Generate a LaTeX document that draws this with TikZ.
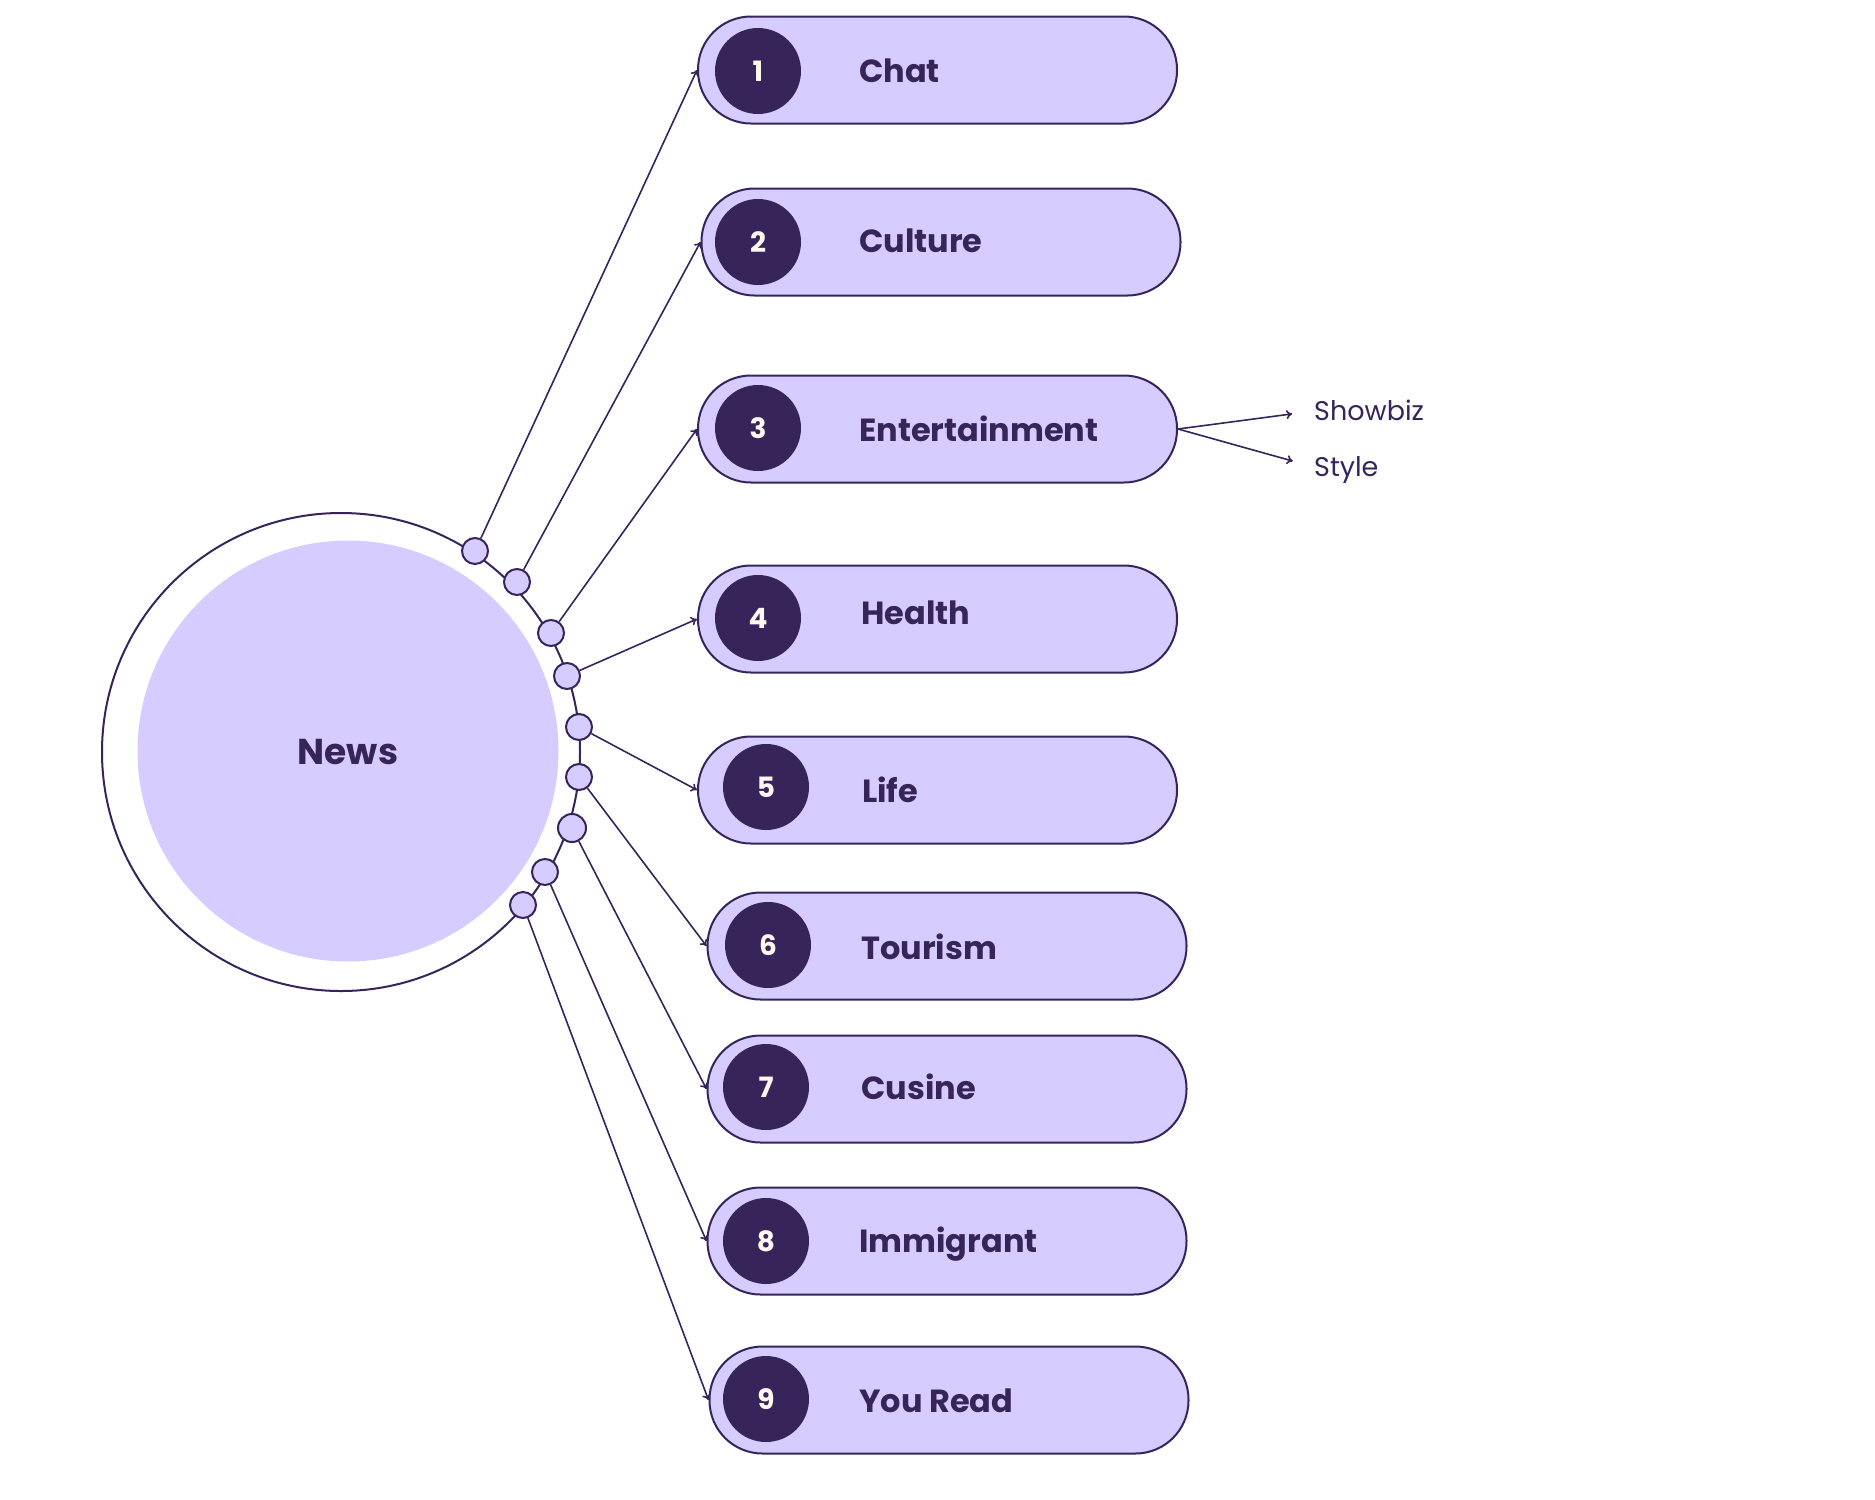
\documentclass[tikz,border=0pt]{standalone}
\usepackage{fontspec}
\setmainfont{Poppins}
\usetikzlibrary{arrows.meta}
\definecolor{lav}{HTML}{D6CCFF}
\definecolor{ink}{HTML}{36245A}
\definecolor{cream}{HTML}{FFF8EE}
\begin{document}
\begin{tikzpicture}[x=1pt,y=-1pt,
  pill/.style={draw=ink,line width=2pt,fill=lav,rounded corners=53pt,minimum width=479pt,minimum height=107pt,inner sep=0pt},
  numdisc/.style={circle,fill=ink,minimum size=86pt,inner sep=0pt,text=cream,font=\fontsize{28}{28}\selectfont\bfseries,text height=20pt,text depth=0pt},
  lbl/.style={anchor=west,inner sep=0pt,text=ink,font=\fontsize{32}{32}\selectfont\bfseries,text height=23pt,text depth=0pt},
  sublbl/.style={anchor=west,inner sep=0pt,text=ink,font=\fontsize{27}{27}\selectfont,text height=19pt,text depth=0pt},
  dot/.style={circle,draw=ink,fill=lav,line width=2pt,minimum size=26pt,inner sep=0pt},
  conn/.style={draw=ink,line width=1.6pt,-{To[length=6pt,width=9pt]}}
]
\useasboundingbox (0,0) rectangle (1875,1500);
% central hub
\node[circle,draw=ink,line width=2pt,minimum size=478pt,inner sep=0pt] (ring) at (341,752) {};
\node[circle,fill=lav,minimum size=421pt,inner sep=0pt,text=ink,font=\fontsize{36}{36}\selectfont\bfseries,text height=26pt,text depth=0pt] (news) at (348,751) {News};
% dots on ring
\node[dot] (d1) at (475,551) {};
\node[dot] (d2) at (517,582) {};
\node[dot] (d3) at (551,633) {};
\node[dot] (d4) at (567,676) {};
\node[dot] (d5) at (579,727) {};
\node[dot] (d6) at (579,777) {};
\node[dot,minimum size=28pt] (d7) at (572,828) {};
\node[dot] (d8) at (545,872) {};
\node[dot] (d9) at (523,905) {};
% pills
\node[pill] (p1) at (937.5,70) {};
\node[pill] (p2) at (941,242) {};
\node[pill] (p3) at (937.5,429) {};
\node[pill] (p4) at (937.5,619) {};
\node[pill] (p5) at (937.5,790) {};
\node[pill] (p6) at (947,946) {};
\node[pill] (p7) at (947,1089) {};
\node[pill] (p8) at (947,1241) {};
\node[pill] (p9) at (949,1400) {};
% number discs
\node[numdisc] (n1) at (758,71) {1};
\node[numdisc] (n2) at (758,242) {2};
\node[numdisc] (n3) at (758,428) {3};
\node[numdisc] (n4) at (758,618) {4};
\node[numdisc] (n5) at (766,787) {5};
\node[numdisc] (n6) at (768,945) {6};
\node[numdisc] (n7) at (766,1087) {7};
\node[numdisc] (n8) at (766,1241) {8};
\node[numdisc] (n9) at (766,1399) {9};
% labels
\node[lbl] (t1) at (859,71) {Chat};
\node[lbl] (t2) at (859,241) {Culture};
\node[lbl] (t3) at (859,430) {Entertainment};
\node[lbl] (t4) at (861,613) {Health};
\node[lbl] (t5) at (862,791) {Life};
\node[lbl] (t6) at (861,948) {Tourism};
\node[lbl] (t7) at (861,1088) {Cusine};
\node[lbl] (t8) at (859,1241) {Immigrant};
\node[lbl] (t9) at (859,1401) {You Read};
% connectors
\draw[conn] (d1) -- (p1.west);
\draw[conn] (d2) -- (p2.west);
\draw[conn] (d3) -- (p3.west);
\draw[conn] (d4) -- (p4.west);
\draw[conn] (d5) -- (p5.west);
\draw[conn] (d6) -- (p6.west);
\draw[conn] (d7) -- (p7.west);
\draw[conn] (d8) -- (p8.west);
\draw[conn] (d9) -- (p9.west);
% sub items
\node[sublbl] (sb) at (1314,411) {Showbiz};
\node[sublbl] (st) at (1314,467) {Style};
\draw[conn,shorten >=22pt] (p3.east) -- (sb.west);
\draw[conn,shorten >=22pt] (p3.east) -- (st.west);
\end{tikzpicture}
\end{document}
